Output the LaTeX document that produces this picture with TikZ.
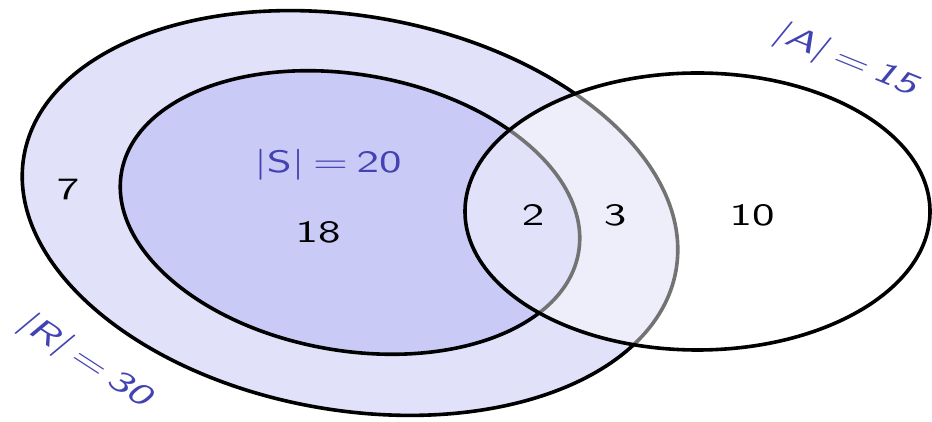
\documentclass[tikz,border=0pt]{standalone}
\usepackage{fontspec}
\usepackage{xcolor}
\newfontfamily\widesans{lmsans10-regular.otf}[FakeStretch=1.45,ItalicFont=lmsans10-oblique.otf]
\definecolor{rfill}{RGB}{225,225,249}
\definecolor{sfill}{RGB}{202,202,246}
\definecolor{lab}{RGB}{66,66,178}
\newcommand{\eqsp}{\hspace{0.28em}=\hspace{0.28em}}
\begin{document}
\begin{tikzpicture}[x=1pt,y=1pt,
  setline/.style={line width=3.6pt,draw=black},
  num/.style={font=\fontsize{31}{36}\selectfont\widesans,text=black,inner sep=0pt},
  setlab/.style={font=\fontsize{31}{36}\selectfont\widesans,text=lab,inner sep=0pt}]
\useasboundingbox (0,0) rectangle (932,422);
\filldraw[setline,fill=rfill,rotate around={-10:(350,209)}] (350,209) ellipse [x radius=331,y radius=197];
\filldraw[setline,fill=sfill,rotate around={-10:(350,209.5)}] (350,209.5) ellipse [x radius=232,y radius=138];
\fill[white,fill opacity=0.45] (697.5,210.5) ellipse [x radius=232.5,y radius=138.5];
\draw[setline] (697.5,210.5) ellipse [x radius=232.5,y radius=138.5];
\node[num] (n7) at (68,232) {7};
\node[setlab] (ls) at (328,257) {|S|\eqsp 20};
\node[num] (n18) at (318,190) {18};
\node[num] (n2) at (533,207) {2};
\node[num] (n3) at (615,207) {3};
\node[num] (n10) at (752,207) {10};
\node[setlab,rotate=-22] (la) at (845,362) {\itshape |A|\eqsp 15};
\node[setlab,rotate=-33] (lr) at (84,62) {\itshape |R|\eqsp 30};
\end{tikzpicture}
\end{document}
